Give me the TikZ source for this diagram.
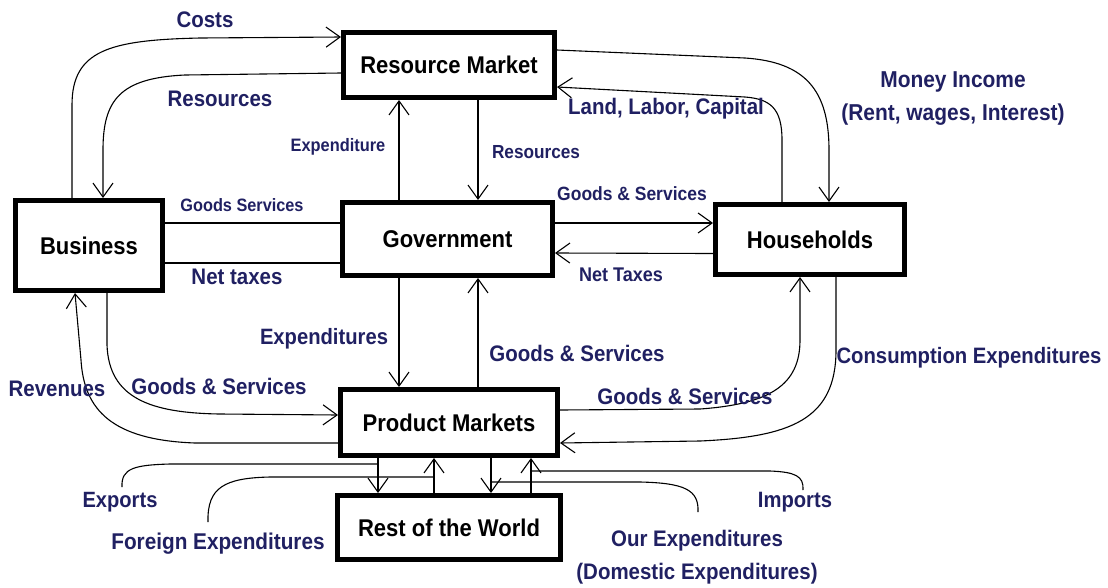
\documentclass[tikz,border=0pt]{standalone}
\usepackage{fontspec}
\setmainfont{Liberation Sans}[FakeStretch=0.91]
\usepackage{tikz}
\usetikzlibrary{arrows.meta}

\definecolor{flowblue}{RGB}{32,32,98}

\begin{document}
\begin{tikzpicture}[x=1pt, y=-1pt,
	sector/.style={draw, line width=5pt, inner sep=0pt, font=\bfseries\fontsize{24.2}{28}\selectfont},
	flow/.style={text=flowblue, inner sep=0pt, text depth=0pt, font=\bfseries\fontsize{#1}{33}\selectfont},
	flow/.default=22.5,
	link/.style={line width=1.1pt},
	>={Straight Barb[length=14pt,width=20pt]}]
\useasboundingbox (0,0) rectangle (1108,587);

\node[sector, minimum width=211pt, minimum height=65pt] (rm) at (449,65) {Resource Market};
\node[sector, minimum width=210pt, minimum height=73pt] (gov) at (447.5,239) {Government};
\node[sector, minimum width=147pt, minimum height=90pt] (biz) at (89,245.5) {Business};
\node[sector, minimum width=189pt, minimum height=70pt] (hh) at (810,239.5) {Households};
\node[sector, minimum width=217pt, minimum height=66pt] (pm) at (449,422.5) {Product Markets};
\node[sector, minimum width=223pt, minimum height=64pt] (row) at (449,527.5) {Rest of the World};

\coordinate (exports-tail) at (122,487);
\coordinate (foreign-tail) at (208,522);
\coordinate (ours-tail) at (698,512);
\coordinate (imports-tail) at (803,490);

\path[link]
([yshift=22.5pt]biz.east) edge ([yshift=16pt]gov.west)
([yshift=-17.5pt]biz.east) edge ([yshift=-24pt]gov.west)
;
\path[link,->]
([xshift=-48.5pt]gov.north) edge ([xshift=-50pt]rm.south)
([xshift=29pt]rm.south) edge ([xshift=30.5pt]gov.north)
([xshift=-48.5pt]gov.south) edge ([xshift=-50pt]pm.north)
([xshift=29pt]pm.north) edge ([xshift=30.5pt]gov.south)
([yshift=16pt]gov.east) edge ([yshift=16.5pt]hh.west)
([yshift=-14pt]hh.west) edge ([yshift=-14pt]gov.east)
([xshift=-71pt]pm.south) edge ([xshift=-71pt]row.north)
([xshift=-15pt]row.north) edge ([xshift=-15pt]pm.south)
([xshift=42pt]pm.south) edge ([xshift=42pt]row.north)
([xshift=82pt]row.north) edge ([xshift=82pt]pm.south)
;

\draw[link,->] ([xshift=-17pt]biz.north) -- (72,105) .. controls (72,50) and (110,40) .. (200,38) -- ([yshift=28pt]rm.west);
\draw[link,->] ([yshift=-8pt]rm.west) -- (185,75) .. controls (120,78) and (103,100) .. (103,150) -- ([xshift=14pt]biz.north);
\draw[link,->] ([yshift=15pt]rm.east) -- (745,58) .. controls (805,62) and (829,90) .. (829,150) -- ([xshift=19pt]hh.north);
\draw[link,->] ([xshift=-28pt]hh.north) -- (782,140) .. controls (782,108) and (770,99) .. (745,97) -- ([yshift=-22pt]rm.east);
\draw[link,->] ([xshift=18pt]biz.south) -- (107,345) .. controls (109,398) and (150,413) .. (220,414) -- ([yshift=7.5pt]pm.west);
\draw[link,->] ([yshift=-20.5pt]pm.west) -- (195,443) .. controls (112,440) and (84,410) .. (81,360) -- ([xshift=-14pt]biz.south);
\draw[link,->] ([yshift=12.5pt]pm.east) -- (700,409) .. controls (770,404) and (800,385) .. (800,340) -- ([xshift=-10pt]hh.south);
\draw[link,->] ([xshift=26pt]hh.south) -- (836,350) .. controls (836,420) and (790,437) .. (700,441) -- ([yshift=-20.5pt]pm.east);

\draw[link] (exports-tail) .. controls (121,468) and (135,465) .. (170,464) -- ([xshift=-71pt,yshift=-6pt]pm.south);
\draw[link] (foreign-tail) .. controls (207,487) and (225,478) .. (270,477) -- ([xshift=-15pt,yshift=-19pt]pm.south);
\draw[link] (ours-tail) .. controls (699,490) and (685,483) .. (640,482) -- ([xshift=42pt,yshift=-24pt]pm.south);
\draw[link] (imports-tail) .. controls (804,476) and (795,472) .. (770,471) -- ([xshift=82pt,yshift=-13pt]pm.south);

\node[flow] (costs) at (205,20) {Costs};
\node[flow] (res-l) at (220,99) {Resources};
\node[flow=18] (spend-g) at (338,145) {Expenditure};
\node[flow=18.9] (res-g) at (536,152) {Resources};
\node[flow=17.9] (gs-bg) at (242,205) {Goods Services};
\node[flow] (tax-bg) at (237,277) {Net taxes};
\node[flow=19.2] (gs-gh) at (632,194) {Goods \& Services};
\node[flow=19.8] (tax-gh) at (621,275) {Net Taxes};
\node[flow] (factors) at (666,106) {Land, Labor, Capital};
\node[flow=23, align=center] (income) at (953,96) {Money Income\\(Rent, wages, Interest)};
\node[flow=22.2] (spend-p) at (324,336) {Expenditures};
\node[flow] (gs-pg) at (577,353) {Goods \& Services};
\node[flow] (revenues) at (57,389) {Revenues};
\node[flow] (gs-bp) at (219,386) {Goods \& Services};
\node[flow] (gs-ph) at (685,396) {Goods \& Services};
\node[flow=22.3] (consumption) at (969,355) {Consumption Expenditures};
\node[flow=22.1] (exports) at (120,500) {Exports};
\node[flow=22.8] (foreign) at (218,541) {Foreign Expenditures};
\node[flow, align=center] (ours) at (697,555) {Our Expenditures\\(Domestic Expenditures)};
\node[flow=22.2] (imports) at (795,500) {Imports};
\end{tikzpicture}
\end{document}
